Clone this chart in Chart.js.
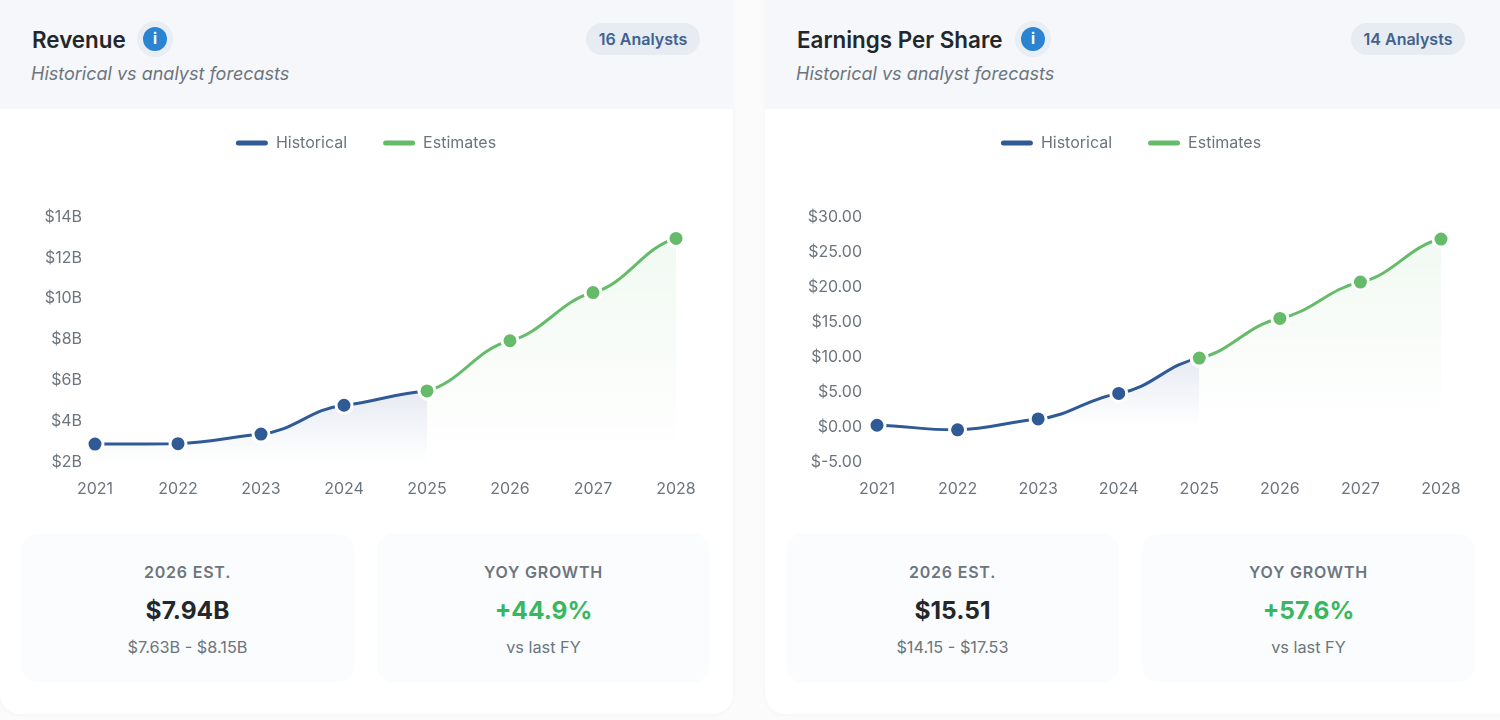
<!DOCTYPE html>
<html>
<head>
<meta charset="utf-8">
<title>Analyst Forecasts</title>
<script src="https://cdn.jsdelivr.net/npm/chart.js@4"></script>
<style>
    * { box-sizing: border-box; }
    html, body { margin: 0; height: 100%; overflow: hidden; background: #fbfbfc; font-family: Inter, sans-serif; }
    .card { position: absolute; top: -20px; width: 733px; height: 734px; background: #fff; border-radius: 20px; box-shadow: 0 1px 4px rgba(0, 0, 0, 0.03); overflow: hidden; }
    #revenueCard { left: 0; }
    #epsCard { left: 765px; width: 760px; }
    .card-head { position: absolute; left: 0; top: 0; width: 100%; height: 129px; background: #f5f7fb; }
    .card-head h2 { position: absolute; left: 32px; top: 43.5px; margin: 0; font-size: 22.4px; line-height: 32px; font-weight: 600; color: #23272b; }
    .info { position: absolute; top: 41px; width: 36px; height: 36px; border-radius: 50%; background: #e9eef4; }
    .info span { position: absolute; left: 6px; top: 6px; width: 24px; height: 24px; border-radius: 50%; background: #2b84d2; color: #fff; font-size: 15px; line-height: 24px; font-weight: 700; text-align: center; }
    .card-head p { position: absolute; left: 31px; top: 81px; margin: 0; font-size: 18px; line-height: 26px; font-style: italic; color: #6c757d; }
    .badge { position: absolute; top: 43px; left: 586px; width: 114px; height: 32px; border-radius: 16px; background: #e7ecf3; color: #41618f; font-size: 16px; line-height: 32px; font-weight: 600; text-align: center; }
    .chart-wrap { position: absolute; left: 22px; top: 119px; width: 688px; height: 407px; }
    .stat { position: absolute; top: 554px; width: 333px; height: 148px; background: #fbfcfd; border-radius: 16px; text-align: center; }
    .stat .label { position: absolute; width: 100%; top: 28px; font-size: 16px; line-height: 20px; font-weight: 600; letter-spacing: 0.8px; color: #6c757d; }
    .stat .value { position: absolute; width: 100%; top: 60px; font-size: 24.5px; line-height: 32px; font-weight: 700; color: #23272b; }
    .stat .value.up { color: #38b75c; }
    .stat .sub { position: absolute; width: 100%; top: 103px; font-size: 16.3px; line-height: 20px; color: #6c757d; }
    .stat.left { left: 21px; }
    .stat.right { left: 377px; }
</style>
</head>
<body>

<div class="card" id="revenueCard">
    <div class="card-head">
        <h2>Revenue</h2>
        <div class="info" style="left:137px"><span>i</span></div>
        <p>Historical vs analyst forecasts</p>
        <div class="badge">16 Analysts</div>
    </div>
    <div class="chart-wrap"><canvas id="revenueChart"></canvas></div>
    <div class="stat left">
        <div class="label">2026 EST.</div>
        <div class="value">$7.94B</div>
        <div class="sub">$7.63B - $8.15B</div>
    </div>
    <div class="stat right">
        <div class="label">YOY GROWTH</div>
        <div class="value up">+44.9%</div>
        <div class="sub">vs last FY</div>
    </div>
</div>

<div class="card" id="epsCard">
    <div class="card-head">
        <h2>Earnings Per Share</h2>
        <div class="info" style="left:250px"><span>i</span></div>
        <p>Historical vs analyst forecasts</p>
        <div class="badge">14 Analysts</div>
    </div>
    <div class="chart-wrap"><canvas id="epsChart"></canvas></div>
    <div class="stat left">
        <div class="label">2026 EST.</div>
        <div class="value">$15.51</div>
        <div class="sub">$14.15 - $17.53</div>
    </div>
    <div class="stat right">
        <div class="label">YOY GROWTH</div>
        <div class="value up">+57.6%</div>
        <div class="sub">vs last FY</div>
    </div>
</div>

<script>
const years = ['2021', '2022', '2023', '2024', '2025', '2026', '2027', '2028'];

const revenueHistorical = [2.88, 2.9, 3.37, 4.78, 5.48, null, null, null];
const revenueEstimates = [null, null, null, null, 5.48, 7.94, 10.3, 12.95];
const revenueTicks = [2, 4, 6, 8, 10, 12, 14];

const epsHistorical = [0.25, -0.4, 1.15, 4.8, 9.84, null, null, null];
const epsEstimates = [null, null, null, null, 9.84, 15.51, 20.7, 26.85];
const epsTicks = [-5, 0, 5, 10, 15, 20, 25, 30];

const BLUE = '#2f5a96';
const GREEN = '#66bb6a';
const RIGHT_PAD = 34;
const LEGEND_GAP = 56;
const TANGENT_SCALE = 0.4;

// Vertical fade under a line, from its highest value down to the fill baseline
function fadeFill(rgb, alpha, values) {
    return (context) => {
        const chart = context.chart;
        if (!chart.chartArea) return 'transparent';
        const y = chart.scales.y;
        const top = y.getPixelForValue(Math.max(...values.filter(v => v !== null)));
        const base = y.getPixelForValue(Math.max(y.min, 0));
        const gradient = chart.ctx.createLinearGradient(0, top, 0, base);
        gradient.addColorStop(0, `rgba(${rgb}, ${alpha})`);
        gradient.addColorStop(1, `rgba(${rgb}, 0)`);
        return gradient;
    };
}

// Extra room under the legend, and the legend centred on the whole canvas
const legendLayout = {
    id: 'legendLayout',
    beforeInit(chart) {
        const fit = chart.legend.fit;
        chart.legend.fit = function () {
            fit.call(this);
            this.height += LEGEND_GAP;
        };
    },
    afterLayout(chart) {
        chart.legend.left += RIGHT_PAD / 2;
        chart.legend.right += RIGHT_PAD / 2;
    }
};

// Flatten the curve at each point so the line runs in soft steps between years
const softSteps = {
    id: 'softSteps',
    afterDatasetsUpdate(chart) {
        chart.getSortedVisibleDatasetMetas().forEach(meta => {
            meta.dataset.updateControlPoints(chart.chartArea);
            meta.data.forEach(pt => {
                if (pt.skip) return;
                pt.cp1y = pt.y + (pt.cp1y - pt.y) * TANGENT_SCALE;
                pt.cp2y = pt.y + (pt.cp2y - pt.y) * TANGENT_SCALE;
            });
        });
    }
};

function lineSet(label, values, color, rgb, alpha, order) {
    return {
        label: label,
        data: values,
        order: order,
        borderColor: color,
        backgroundColor: fadeFill(rgb, alpha, values),
        borderWidth: 3,
        tension: 0.4,
        fill: 'origin',
        pointRadius: 8,
        pointHoverRadius: 8,
        pointBorderWidth: 3,
        pointBackgroundColor: color,
        pointBorderColor: '#fff'
    };
}

function buildChart(canvasId, historical, estimates, ticks, axisWidth, labelPad, formatTick) {
    return new Chart(document.getElementById(canvasId), {
        type: 'line',
        data: {
            labels: years,
            datasets: [
                lineSet('Historical', historical, BLUE, '47, 90, 150', 0.12, 2),
                lineSet('Estimates', estimates, GREEN, '102, 187, 106', 0.09, 1)
            ]
        },
        plugins: [legendLayout, softSteps],
        options: {
            responsive: true,
            maintainAspectRatio: false,
            animation: false,
            layout: { padding: { top: 0, right: RIGHT_PAD, bottom: 0, left: 0 } },
            plugins: {
                tooltip: { enabled: false },
                legend: {
                    position: 'top',
                    labels: {
                        font: { family: 'Inter', size: 16 },
                        color: '#6c757d',
                        boxWidth: 32,
                        boxHeight: 5,
                        useBorderRadius: true,
                        borderRadius: 2.5,
                        padding: 36,
                        generateLabels: (chart) => chart.data.datasets.map((d, i) => ({
                            text: d.label,
                            datasetIndex: i,
                            fillStyle: d.borderColor,
                            strokeStyle: d.borderColor,
                            lineWidth: 0,
                            fontColor: '#6c757d',
                            borderRadius: 2.5
                        }))
                    }
                }
            },
            scales: {
                x: {
                    offset: false,
                    grid: { display: false },
                    border: { display: false },
                    ticks: { color: '#6c757d', font: { family: 'Inter', size: 16 }, padding: 10, maxRotation: 0, autoSkip: false },
                    afterFit: (scale) => { scale.height = 44; }
                },
                y: {
                    min: ticks[0],
                    max: ticks[ticks.length - 1],
                    afterBuildTicks: (scale) => { scale.ticks = ticks.map(v => ({ value: v })); },
                    grid: { display: false },
                    border: { display: false },
                    ticks: { color: '#6c757d', font: { family: 'Inter', size: 16 }, padding: labelPad, callback: formatTick },
                    afterFit: (scale) => { scale.width = axisWidth; }
                }
            }
        }
    });
}

document.addEventListener('DOMContentLoaded', () => {
    buildChart('revenueChart', revenueHistorical, revenueEstimates, revenueTicks, 73, 5, v => '$' + v + 'B');
    buildChart('epsChart', epsHistorical, epsEstimates, epsTicks, 90, 7, v => '$' + v.toFixed(2));
});
</script>
</body>
</html>
